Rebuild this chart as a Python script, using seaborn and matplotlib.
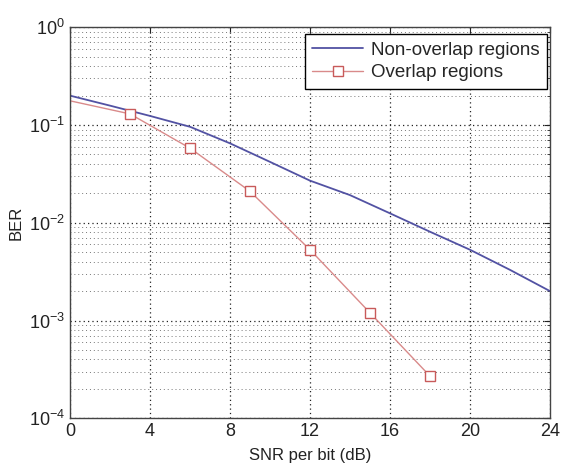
import numpy as np
import pandas as pd
import matplotlib
matplotlib.use("Agg")
import matplotlib.pyplot as plt
import seaborn as sns
from matplotlib.ticker import LogLocator, FixedLocator, NullFormatter

# Data
snr_non = [0, 2, 4, 6, 8, 10, 12, 14, 16, 18, 20, 22, 24]
ber_non = [0.20, 0.158, 0.124, 0.096, 0.065, 0.042, 0.027, 0.0192, 0.0125,
           0.0081, 0.0053, 0.0033, 0.0020]
snr_ovl = [0, 3, 6, 9, 12, 15, 18]
ber_ovl = [0.177, 0.13, 0.058, 0.021, 0.0053, 0.0012, 0.00027]
x_ticks = [0, 4, 8, 12, 16, 20, 24]

sns.set_style("white")
plt.rcParams["font.family"] = ["Liberation Sans", "DejaVu Sans"]
plt.rcParams["mathtext.fontset"] = "custom"
plt.rcParams["mathtext.rm"] = "Liberation Sans"
plt.rcParams["mathtext.it"] = "Liberation Sans"
plt.rcParams["mathtext.default"] = "regular"

df_non = pd.DataFrame({"snr": snr_non, "ber": ber_non})
df_ovl = pd.DataFrame({"snr": snr_ovl, "ber": ber_ovl})

fig = plt.figure(figsize=(5.61, 4.66), dpi=100)
ax = fig.add_axes([70 / 561, 1 - 418.3 / 466, 480 / 561, 391 / 466])

sns.lineplot(data=df_non, x="snr", y="ber", ax=ax, color="#5252a3",
             linewidth=1.3, label="Non-overlap regions")
sns.lineplot(data=df_ovl, x="snr", y="ber", ax=ax, color="#d98a8a",
             linewidth=1.0, marker="s", markersize=7, markerfacecolor="white",
             markeredgecolor="#c85a5a", markeredgewidth=1.0,
             markevery=slice(1, None), label="Overlap regions")

ax.set_yscale("log")
ax.set_xlim(0, 24)
ax.set_ylim(1e-4, 1)
ax.xaxis.set_major_locator(FixedLocator(x_ticks))
ax.yaxis.set_major_locator(LogLocator(base=10, numticks=10))
ax.yaxis.set_minor_locator(LogLocator(base=10, subs=np.arange(2, 10), numticks=20))
ax.yaxis.set_minor_formatter(NullFormatter())

ax.grid(True, which="major", axis="both", color="#222222",
        linestyle=(0, (1, 2.5)), linewidth=0.9)
ax.grid(True, which="minor", axis="y", color="#777777",
        linestyle=(0, (1, 3)), linewidth=0.7)

ax.tick_params(axis="both", which="major", direction="in", length=4, width=0.8,
               labelsize=13, colors="#222222", top=True, right=True)
ax.tick_params(axis="y", which="minor", direction="in", length=2, width=0.6, right=True)
for s in ax.spines.values():
    s.set_color("#444444")
    s.set_linewidth(1.0)

ax.set_xlabel("SNR per bit (dB)", fontsize=12, color="#222222", labelpad=6)
ax.set_ylabel("BER", fontsize=12, color="#222222", labelpad=4)

leg = ax.legend(loc="upper right", bbox_to_anchor=(0.993, 0.983), borderaxespad=0,
                fontsize=13.5, frameon=True, fancybox=False, edgecolor="black",
                framealpha=1, handlelength=2.7, handletextpad=0.4, borderpad=0.4,
                labelspacing=0.3)
leg.get_frame().set_linewidth(1.0)

fig.savefig("out.png", dpi=100)
